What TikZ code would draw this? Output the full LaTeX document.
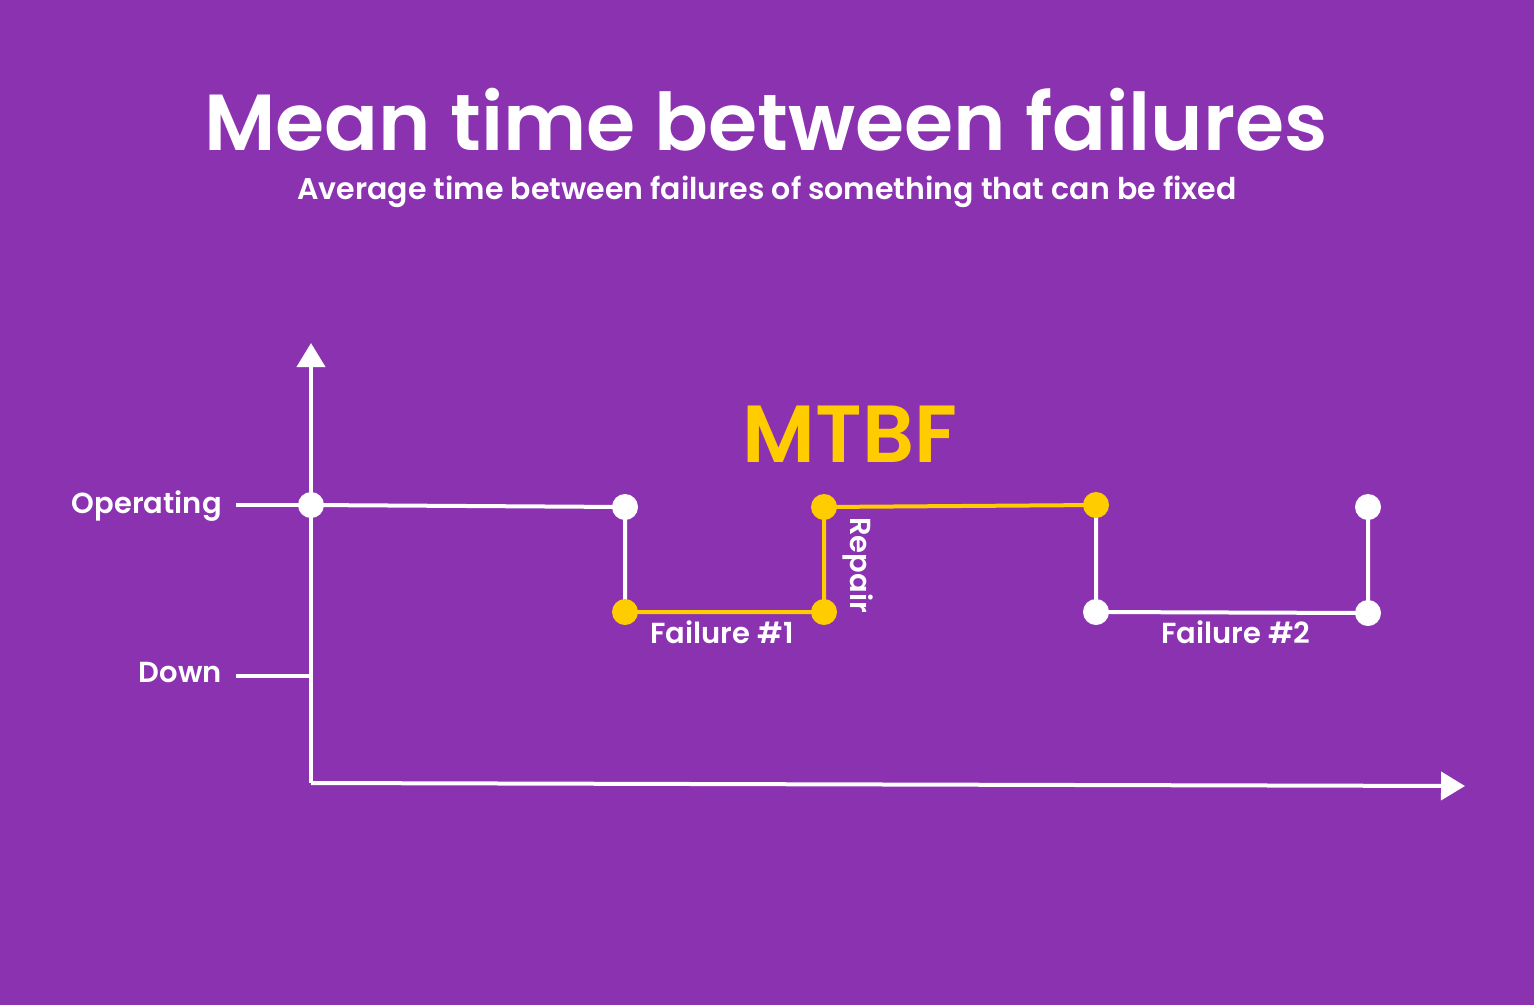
\documentclass[tikz,border=0pt]{standalone}
\usepackage{fontspec}
\setmainfont{Poppins}[BoldFont={Poppins SemiBold}]
\usetikzlibrary{arrows.meta}
\definecolor{bgpurple}{RGB}{138,50,176}
\definecolor{myyellow}{RGB}{255,204,0}
\tikzset{
  wline/.style={draw=white,line width=4pt},
  yline/.style={draw=myyellow,line width=4pt},
  wdot/.style={circle,fill=white,inner sep=0pt,minimum size=26pt},
  ydot/.style={circle,fill=myyellow,inner sep=0pt,minimum size=26pt},
  lbl/.style={text=white,font=\bfseries\fontsize{29}{29}\selectfont,inner sep=0pt},
  axis/.style={draw=white,line width=4pt,-{Triangle[width=28pt,length=24pt]}},
}
\begin{document}
\begin{tikzpicture}[x=1pt,y=-1pt]
\fill[bgpurple] (0,0) rectangle (1534,1005);
\useasboundingbox (0,0) rectangle (1534,1005);
% titles
\node[text=white,font=\bfseries\fontsize{79.5}{80}\selectfont,inner sep=0pt,anchor=base] (title) at (766,150) {Mean time between failures};
\node[text=white,font=\bfseries\fontsize{30}{30}\selectfont,inner sep=0pt,anchor=base] (sub) at (767,199) {Average time between failures of something that can be fixed};
% axes
\coordinate (O) at (311,783);
\coordinate (ytip) at (311,343);
\coordinate (xtip) at (1465,786);
\draw[axis] (O) -- (ytip);
\draw[axis] (O) -- (xtip);
% tick labels
\coordinate (opL) at (236,505);
\coordinate (dnL) at (236,676);
\coordinate (dnR) at (311,676);
\node[lbl,anchor=east] (oplbl) at (222,506) {Operating};
\node[lbl,anchor=east] (dnlbl) at (222,672) {Down};
% points
\coordinate (p0) at (311,505);
\coordinate (p1) at (625,507);
\coordinate (p2) at (625,612);
\coordinate (p3) at (824,612);
\coordinate (p4) at (824,507);
\coordinate (p5) at (1096,505);
\coordinate (p6) at (1096,612);
\coordinate (p7) at (1368,613);
\coordinate (p8) at (1368,507);
\draw[wline] (opL) -- (p0);
\draw[wline] (dnL) -- (dnR);
\draw[wline] (p0) -- (p1) -- (p2);
\draw[yline] (p2) -- (p3) -- (p4) -- (p5);
\draw[wline] (p5) -- (p6) -- (p7) -- (p8);
\node[wdot] (d0) at (p0) {};
\node[wdot] (d1) at (p1) {};
\node[ydot] (d2) at (p2) {};
\node[ydot] (d3) at (p3) {};
\node[ydot] (d4) at (p4) {};
\node[ydot] (d5) at (p5) {};
\node[wdot] (d6) at (p6) {};
\node[wdot] (d7) at (p7) {};
\node[wdot] (d8) at (p8) {};
% labels
\node[text=myyellow,font=\bfseries\fontsize{81}{81}\selectfont,inner sep=0pt] (mtbf) at (850,434) {MTBF};
\node[lbl] (f1) at (722,632) {Failure \#1};
\node[lbl] (f2) at (1236,632) {Failure \#2};
\node[lbl,rotate=-90] (rep) at (858,565) {Repair};
\end{tikzpicture}
\end{document}
